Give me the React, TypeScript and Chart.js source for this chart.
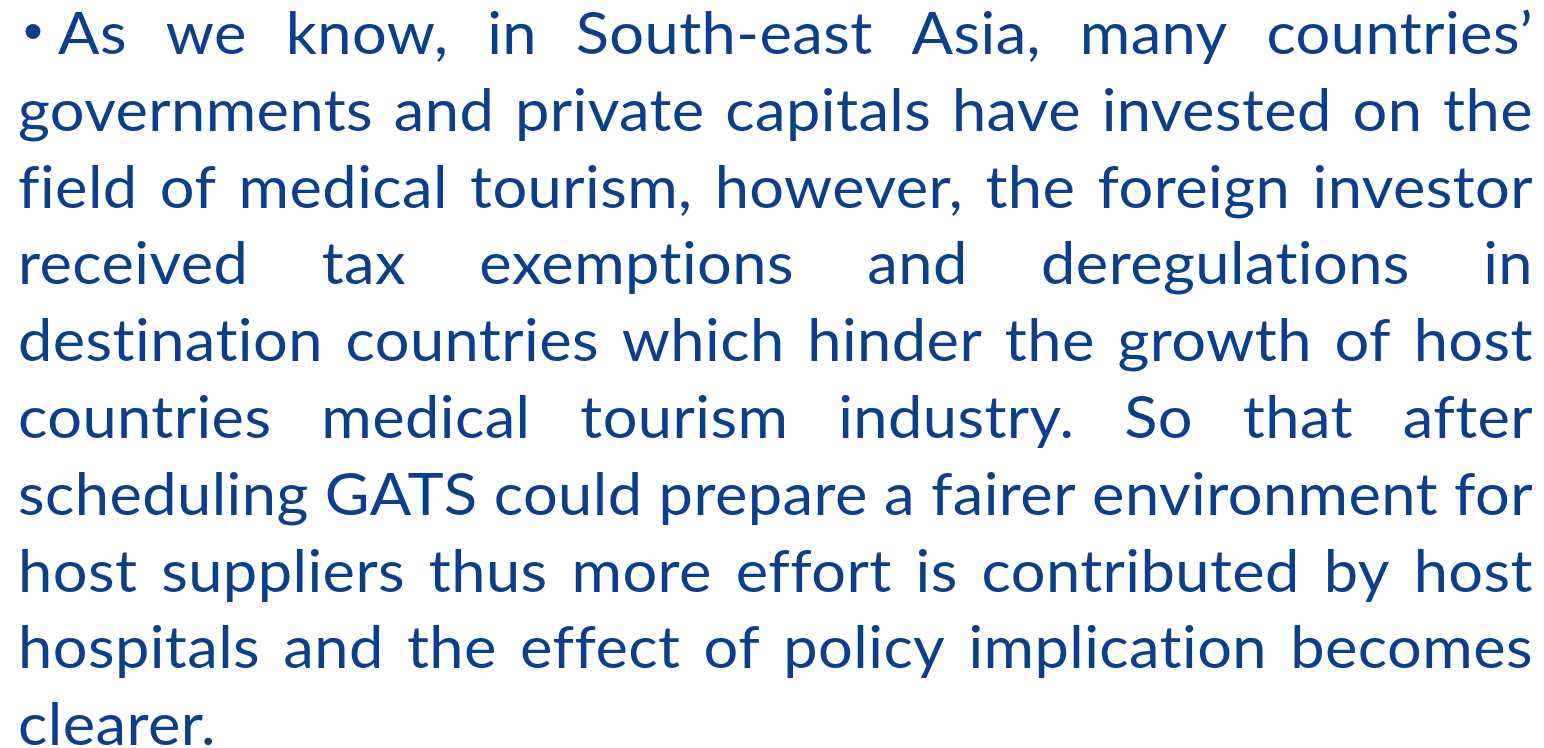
import React, { useEffect, useRef } from "react";
import { Chart, registerables } from "chart.js";

Chart.register(...registerables);

// Paragraph lines as laid out in the slide
const lines: string[] = [
  "As we know, in South-east Asia, many countries’",
  "governments and private capitals have invested on the",
  "field of medical tourism, however, the foreign investor",
  "received tax exemptions and deregulations in",
  "destination countries which hinder the growth of host",
  "countries medical tourism industry. So that after",
  "scheduling GATS could prepare a fairer environment for",
  "host suppliers thus more effort is contributed by host",
  "hospitals and the effect of policy implication becomes",
  "clearer.",
];
const bulletLines: number[] = [0];

const W = 1544;
const H = 748;
const COLOR = "#0b3f8b";
const FONT_SIZE = 59;
const FONT = `${FONT_SIZE}px Lato, "Open Sans", sans-serif`;
const LEFT = 18;
const RIGHT = 1533;
const FIRST_INDENT = 58;
const FIRST_BASELINE = 54;
const LINE_STEP = 76.8;

const textPlugin = {
  id: "slideText",
  afterDraw(chart: any) {
    const ctx: any = chart.ctx;
    ctx.save();
    ctx.font = FONT;
    ctx.fillStyle = COLOR;
    ctx.textBaseline = "alphabetic";
    ctx.textAlign = "left";
    // tiny letter spacing disables optional ligatures (fi, ti, ff)
    if ("letterSpacing" in ctx) ctx.letterSpacing = "0.4px";
    const spaceW = ctx.measureText(" ").width;
    // global horizontal scale so the tightest justified line has natural spacing
    let sx = Infinity;
    lines.forEach((ln, i) => {
      if (i === lines.length - 1) return;
      const words = ln.split(" ");
      const start = bulletLines.includes(i) ? FIRST_INDENT : LEFT;
      const ww = words.reduce((s, w) => s + ctx.measureText(w).width, 0);
      const need = (RIGHT - start) / (ww + (words.length - 1) * spaceW);
      if (need < sx) sx = need;
    });
    if (!isFinite(sx)) sx = 1;
    lines.forEach((ln, i) => {
      const y = FIRST_BASELINE + i * LINE_STEP;
      const start = bulletLines.includes(i) ? FIRST_INDENT : LEFT;
      if (bulletLines.includes(i)) {
        ctx.beginPath();
        ctx.arc(33, 31.5, 7.5, 0, Math.PI * 2);
        ctx.fill();
      }
      const words = ln.split(" ");
      const widths = words.map((w) => ctx.measureText(w).width * sx);
      const total = widths.reduce((a, b) => a + b, 0);
      const isLast = i === lines.length - 1;
      const gap = isLast || words.length < 2 ? spaceW * sx : (RIGHT - start - total) / (words.length - 1);
      let x = start;
      words.forEach((w, k) => {
        ctx.save();
        ctx.translate(x, y);
        ctx.scale(sx, 1);
        ctx.fillText(w, 0, 0);
        ctx.restore();
        x += widths[k] + gap;
      });
    });
    ctx.restore();
  },
};

export default function App() {
  const ref = useRef<HTMLCanvasElement | null>(null);
  useEffect(() => {
    document.body.style.margin = "0";
    document.body.style.background = "#ffffff";
    const canvas = ref.current;
    if (!canvas) return;
    const chart = new Chart(canvas, {
      type: "scatter",
      data: { datasets: [] },
      options: {
        animation: false,
        responsive: false,
        events: [],
        layout: { padding: 0 },
        plugins: { legend: { display: false }, tooltip: { enabled: false }, title: { display: false } },
        scales: { x: { display: false }, y: { display: false } },
      },
      plugins: [textPlugin],
    });
    let alive = true;
    if ((document as any).fonts && (document as any).fonts.load) {
      (document as any).fonts.load(FONT).then(() => {
        if (alive) chart.draw();
      }).catch(() => {});
    }
    return () => {
      alive = false;
      chart.destroy();
    };
  }, []);
  return (
    <div style={{ width: W, height: H, background: "#fff" }}>
      <canvas ref={ref} width={W} height={H} style={{ display: "block", width: W, height: H }} />
    </div>
  );
}
